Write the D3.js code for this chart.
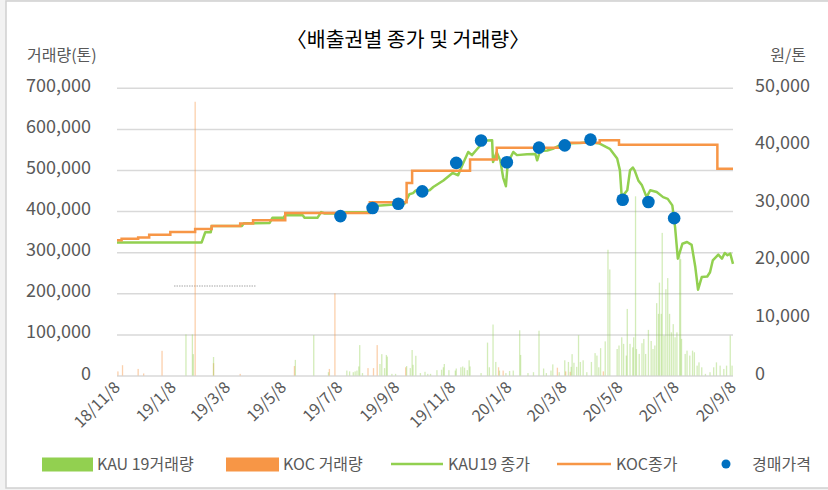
<!DOCTYPE html>
<html>
<head>
<meta charset="utf-8">
<script src="https://cdn.jsdelivr.net/npm/d3@7"></script>
<style>
  body { margin: 0; background: #f2f2f2; }
  svg text { font-family: "Noto Sans CJK KR", "Noto Sans", sans-serif; fill: #595959; }
  .grid line { stroke: #d9d9d9; stroke-width: 1.5; }
  .grid path { display: none; }
</style>
</head>
<body>
<svg id="chart" width="828" height="490"></svg>
<script>
// x-axis tick labels (every two months)
const tickDates = ["2018-11-08", "2019-01-08", "2019-03-08", "2019-05-08", "2019-07-08", "2019-09-08",
  "2019-11-08", "2020-01-08", "2020-03-08", "2020-05-08", "2020-07-08", "2020-09-08"];

// KAU19 closing price (원/톤)
const kauClose = [
  ["2018-11-08", 23100], ["2019-02-08", 23100], ["2019-02-12", 24900], ["2019-02-18", 24900],
  ["2019-02-19", 26000], ["2019-03-24", 26000], ["2019-03-26", 26450], ["2019-04-23", 26500],
  ["2019-04-26", 27400], ["2019-05-08", 27400], ["2019-05-10", 27850], ["2019-05-29", 27850],
  ["2019-05-31", 27400], ["2019-06-14", 27400], ["2019-06-18", 28400], ["2019-06-22", 28150],
  ["2019-07-12", 28150], ["2019-07-14", 28350], ["2019-08-07", 28400], ["2019-08-12", 29000],
  ["2019-08-18", 29500], ["2019-09-09", 29750], ["2019-09-17", 29900], ["2019-09-22", 31500],
  ["2019-09-26", 31700], ["2019-09-29", 32150], ["2019-10-14", 32200], ["2019-10-18", 32750],
  ["2019-10-29", 33900], ["2019-11-08", 35200], ["2019-11-14", 34800], ["2019-11-19", 36700],
  ["2019-11-25", 38850], ["2019-11-29", 38300], ["2019-12-05", 39400], ["2019-12-10", 40300],
  ["2019-12-15", 40850], ["2019-12-21", 40900], ["2019-12-22", 37100], ["2019-12-26", 38800],
  ["2019-12-30", 37300], ["2020-01-02", 34400], ["2020-01-05", 32900], ["2020-01-07", 36900],
  ["2020-01-13", 38850], ["2020-01-17", 38300], ["2020-01-28", 38450], ["2020-02-06", 38500],
  ["2020-02-08", 37400], ["2020-02-11", 39000], ["2020-02-19", 39100], ["2020-02-25", 39400],
  ["2020-03-07", 40300], ["2020-03-26", 40400], ["2020-04-05", 40550], ["2020-04-16", 40300],
  ["2020-04-27", 39400], ["2020-05-05", 37700], ["2020-05-08", 35650], ["2020-05-10", 31000],
  ["2020-05-16", 32200], ["2020-05-19", 35650], ["2020-05-22", 36150], ["2020-05-24", 35650],
  ["2020-05-28", 33900], ["2020-06-01", 33050], ["2020-06-06", 31000], ["2020-06-10", 32200],
  ["2020-06-17", 31900], ["2020-06-24", 31000], ["2020-06-29", 30700], ["2020-07-04", 29570],
  ["2020-07-07", 25800], ["2020-07-10", 20300], ["2020-07-15", 22900], ["2020-07-20", 23200],
  ["2020-07-25", 22700], ["2020-07-29", 18850], ["2020-08-01", 14900], ["2020-08-05", 17100],
  ["2020-08-11", 17200], ["2020-08-14", 17950], ["2020-08-17", 20000], ["2020-08-23", 21000],
  ["2020-08-27", 20300], ["2020-08-30", 21300], ["2020-09-02", 20900], ["2020-09-05", 21200],
  ["2020-09-08", 19400]
];

// KOC closing price (원/톤), changes only
const kocClose = [
  ["2018-11-08", 23500], ["2018-11-13", 23770], ["2018-12-01", 24000], ["2018-12-13", 24460],
  ["2019-01-05", 24930], ["2019-02-01", 25450], ["2019-02-19", 25970], ["2019-03-22", 26430],
  ["2019-04-05", 26960], ["2019-05-10", 28230], ["2019-08-10", 30090], ["2019-09-19", 33440],
  ["2019-09-25", 35600], ["2019-11-27", 37560], ["2019-12-26", 39600], ["2020-03-11", 40470],
  ["2020-04-16", 40870], ["2020-05-07", 40120], ["2020-08-22", 35950], ["2020-09-08", 35950]
];

// auction prices (원/톤)
const auction = [
  ["2019-07-09", 27700], ["2019-08-13", 29100], ["2019-09-10", 29850], ["2019-10-06", 32000],
  ["2019-11-12", 36950], ["2019-12-09", 40850], ["2020-01-06", 37050], ["2020-02-10", 39600],
  ["2020-03-09", 40000], ["2020-04-06", 41000], ["2020-05-11", 30550], ["2020-06-08", 30150],
  ["2020-07-06", 27350]
];

// KOC volume (톤)
const kocVolume = [
  ["2018-11-09", 10000], ["2018-11-14", 25000], ["2018-12-01", 16000], ["2018-12-07", 5000],
  ["2018-12-27", 60000], ["2019-02-01", 666000], ["2019-02-21", 30000], ["2019-03-22", 4000],
  ["2019-05-20", 23000], ["2019-06-27", 16000], ["2019-07-03", 200000], ["2019-08-08", 18000],
  ["2019-08-14", 18000], ["2019-08-18", 74000], ["2019-09-18", 20000], ["2019-12-28", 20000],
  ["2020-01-02", 12000], ["2020-03-01", 19000], ["2020-03-10", 10000], ["2020-03-15", 9000],
  ["2020-04-20", 10000]
];

// KAU19 volume (톤)
const kauVolume = [
  ["2019-01-22", 100000], ["2019-01-29", 100000], ["2019-01-30", 52000], ["2019-02-21", 45000],
  ["2019-05-21", 38000], ["2019-06-10", 98000], ["2019-06-26", 8000], ["2019-07-16", 12000],
  ["2019-07-19", 10000], ["2019-07-23", 8000], ["2019-07-25", 10000], ["2019-07-27", 12000],
  ["2019-07-29", 22000], ["2019-07-30", 74000], ["2019-08-02", 6000], ["2019-08-21", 28000],
  ["2019-08-23", 52000], ["2019-08-26", 18000], ["2019-08-28", 50000], ["2019-08-29", 46000],
  ["2019-09-03", 4000], ["2019-09-07", 4000], ["2019-09-19", 23000], ["2019-09-23", 18000],
  ["2019-09-25", 62000], ["2019-09-26", 26000], ["2019-09-29", 48000], ["2019-10-04", 6000],
  ["2019-10-09", 9000], ["2019-10-12", 4000], ["2019-10-15", 4000], ["2019-10-22", 13000],
  ["2019-10-27", 14000], ["2019-10-29", 20000], ["2019-10-30", 28000], ["2019-11-04", 13000],
  ["2019-11-11", 12000], ["2019-11-12", 17000], ["2019-11-17", 20000], ["2019-11-19", 22000],
  ["2019-11-21", 19000], ["2019-11-24", 13000], ["2019-11-26", 37000], ["2019-11-27", 22000],
  ["2019-12-09", 6000], ["2019-12-16", 80000], ["2019-12-18", 20000], ["2019-12-22", 124000],
  ["2019-12-25", 33000], ["2019-12-29", 12000], ["2020-01-05", 6000], ["2020-01-09", 11000],
  ["2020-01-13", 12000], ["2020-01-20", 110000], ["2020-01-21", 50000], ["2020-01-29", 6000],
  ["2020-02-04", 8000], ["2020-02-10", 109000], ["2020-02-15", 17000], ["2020-02-18", 6000],
  ["2020-02-23", 12000], ["2020-02-25", 27000], ["2020-03-03", 8000], ["2020-03-09", 37000],
  ["2020-03-13", 33000], ["2020-03-16", 21000], ["2020-03-17", 52000], ["2020-03-19", 31000],
  ["2020-03-22", 21000], ["2020-03-24", 98000], ["2020-03-26", 33000], ["2020-03-29", 37000],
  ["2020-04-02", 8000], ["2020-04-07", 33000], ["2020-04-11", 54500], ["2020-04-13", 48500],
  ["2020-04-15", 20000], ["2020-04-17", 66500], ["2020-04-22", 83000], ["2020-04-25", 306000],
  ["2020-04-27", 258000], ["2020-05-05", 64500], ["2020-05-07", 73000], ["2020-05-10", 93000],
  ["2020-05-12", 77000], ["2020-05-15", 48500], ["2020-05-16", 162000], ["2020-05-19", 77000],
  ["2020-05-22", 68500], ["2020-05-23", 93000], ["2020-05-25", 436000], ["2020-05-26", 64500],
  ["2020-05-29", 52500], ["2020-06-01", 78500], ["2020-06-03", 89000], ["2020-06-05", 52500],
  ["2020-06-08", 111000], ["2020-06-11", 84000], ["2020-06-13", 64500], ["2020-06-15", 73000],
  ["2020-06-17", 176000], ["2020-06-19", 150000], ["2020-06-20", 226000], ["2020-06-22", 150000],
  ["2020-06-23", 347000], ["2020-06-25", 97000], ["2020-06-27", 210000], ["2020-06-29", 237000],
  ["2020-07-01", 150000], ["2020-07-03", 105000], ["2020-07-05", 125000], ["2020-07-07", 93000],
  ["2020-07-09", 105000], ["2020-07-12", 291000], ["2020-07-13", 283000], ["2020-07-14", 89000],
  ["2020-07-18", 52500], ["2020-07-20", 60500], ["2020-07-23", 48500], ["2020-07-26", 60500],
  ["2020-07-28", 56500], ["2020-07-31", 24000], ["2020-08-02", 32000], ["2020-08-05", 20000],
  ["2020-08-09", 4000], ["2020-08-14", 8000], ["2020-08-18", 20000], ["2020-08-21", 32000],
  ["2020-08-25", 24000], ["2020-08-29", 16000], ["2020-09-01", 24000], ["2020-09-05", 97000],
  ["2020-09-07", 24000]
];

const volTicks = [0, 100000, 200000, 300000, 400000, 500000, 600000, 700000];
const priceTicks = [0, 10000, 20000, 30000, 40000, 50000];

const parse = d3.timeParse("%Y-%m-%d");
const GREEN = "#92d050", ORANGE = "#f79646", BLUE = "#0070c0";

const svg = d3.select("#chart");
const plotLeft = 117, plotRight = 733, plotTop = 87.8, plotBottom = 375.5;

svg.append("rect")
  .attr("x", 6).attr("y", 1).attr("width", 830).attr("height", 487)
  .attr("fill", "#fff").attr("stroke", "#d0d0d0").attr("stroke-width", 1.5);

const x = d3.scaleTime()
  .domain([parse("2018-11-08"), parse("2020-09-08")])
  .range([plotLeft, plotRight]);
const yL = d3.scaleLinear().domain([0, 700000]).range([plotBottom, plotTop]);
const yR = d3.scaleLinear().domain([0, 50000]).range([plotBottom, plotTop]);

// gridlines
svg.append("g")
  .attr("class", "grid")
  .attr("transform", `translate(${plotLeft},0)`)
  .call(d3.axisLeft(yL).tickValues(volTicks).tickSize(-(plotRight - plotLeft)).tickFormat(""));
svg.select(".grid").selectAll("g.tick").filter(d => d === 0).select("line")
  .attr("stroke-width", 2.2);

// stray dotted line from the source
svg.append("line")
  .attr("x1", 174).attr("x2", 256).attr("y1", 286).attr("y2", 286)
  .attr("stroke", "#909090").attr("stroke-width", 0.8).attr("stroke-dasharray", "1.5,1");

// volume bars
const barW = 1.3;
svg.append("g").selectAll("rect")
  .data(kocVolume).enter().append("rect")
  .attr("x", d => x(parse(d[0])) - barW / 2)
  .attr("y", d => yL(d[1]))
  .attr("width", barW)
  .attr("height", d => plotBottom - yL(d[1]))
  .attr("fill", ORANGE).attr("opacity", 0.45);

svg.append("g").selectAll("rect")
  .data(kauVolume).enter().append("rect")
  .attr("x", d => x(parse(d[0])) - barW / 2)
  .attr("y", d => yL(d[1]))
  .attr("width", barW)
  .attr("height", d => plotBottom - yL(d[1]))
  .attr("fill", GREEN).attr("opacity", 0.4);

// price lines
const kauLine = d3.line().x(d => x(parse(d[0]))).y(d => yR(d[1]));
const kocLine = d3.line().x(d => x(parse(d[0]))).y(d => yR(d[1])).curve(d3.curveStepAfter);

svg.append("path").datum(kauClose)
  .attr("d", kauLine).attr("fill", "none")
  .attr("stroke", GREEN).attr("stroke-width", 2.5).attr("stroke-linejoin", "round");

svg.append("path").datum(kocClose)
  .attr("d", kocLine).attr("fill", "none")
  .attr("stroke", ORANGE).attr("stroke-width", 2.5);

svg.append("g").selectAll("circle")
  .data(auction).enter().append("circle")
  .attr("cx", d => x(parse(d[0])))
  .attr("cy", d => yR(d[1]))
  .attr("r", 6.3)
  .attr("fill", BLUE);

// left axis labels
svg.append("g").selectAll("text")
  .data(volTicks).enter().append("text")
  .attr("x", 91).attr("y", d => yL(d) + 4)
  .attr("text-anchor", "end")
  .attr("font-size", 18)
  .text(d => d3.format(",")(d));

// right axis labels
svg.append("g").selectAll("text")
  .data(priceTicks).enter().append("text")
  .attr("x", 755).attr("y", d => yR(d) + 4)
  .attr("text-anchor", "start")
  .attr("font-size", 18)
  .text(d => d3.format(",")(d));

// x labels
const fmt = d3.timeFormat("%y/%-m/%-d");
svg.append("g").selectAll("text")
  .data(tickDates).enter().append("text")
  .attr("transform", d => `translate(${x(parse(d)) + 4},${plotBottom + 13}) rotate(-45)`)
  .attr("text-anchor", "end")
  .attr("font-size", 16)
  .text(d => fmt(parse(d)));

// titles
svg.append("text")
  .attr("x", 408).attr("y", 47)
  .attr("text-anchor", "middle")
  .attr("font-size", 20.5)
  .style("fill", "#000")
  .text("〈배출권별 종가 및 거래량〉");

svg.append("text")
  .attr("x", 27).attr("y", 61)
  .attr("font-size", 16)
  .text("거래량(톤)");

svg.append("text")
  .attr("x", 806).attr("y", 61)
  .attr("text-anchor", "end")
  .attr("font-size", 16)
  .text("원/톤");

// legend
const lg = svg.append("g").attr("transform", "translate(0,464)");
lg.append("rect").attr("x", 42).attr("y", -6.5).attr("width", 51).attr("height", 14).attr("fill", GREEN);
lg.append("text").attr("x", 97).attr("y", 6).attr("font-size", 16).text("KAU 19거래량");
lg.append("rect").attr("x", 226).attr("y", -6.5).attr("width", 53).attr("height", 14).attr("fill", ORANGE);
lg.append("text").attr("x", 283).attr("y", 6).attr("font-size", 16).text("KOC 거래량");
lg.append("line").attr("x1", 391).attr("x2", 443).attr("y1", 0).attr("y2", 0)
  .attr("stroke", GREEN).attr("stroke-width", 2.5);
lg.append("text").attr("x", 448).attr("y", 6).attr("font-size", 16).text("KAU19 종가");
lg.append("line").attr("x1", 557).attr("x2", 611).attr("y1", 0).attr("y2", 0)
  .attr("stroke", ORANGE).attr("stroke-width", 2.5);
lg.append("text").attr("x", 616).attr("y", 6).attr("font-size", 16).text("KOC종가");
lg.append("circle").attr("cx", 726).attr("cy", 0).attr("r", 4.5).attr("fill", BLUE);
lg.append("text").attr("x", 752).attr("y", 6).attr("font-size", 16).text("경매가격");
</script>
</body>
</html>
